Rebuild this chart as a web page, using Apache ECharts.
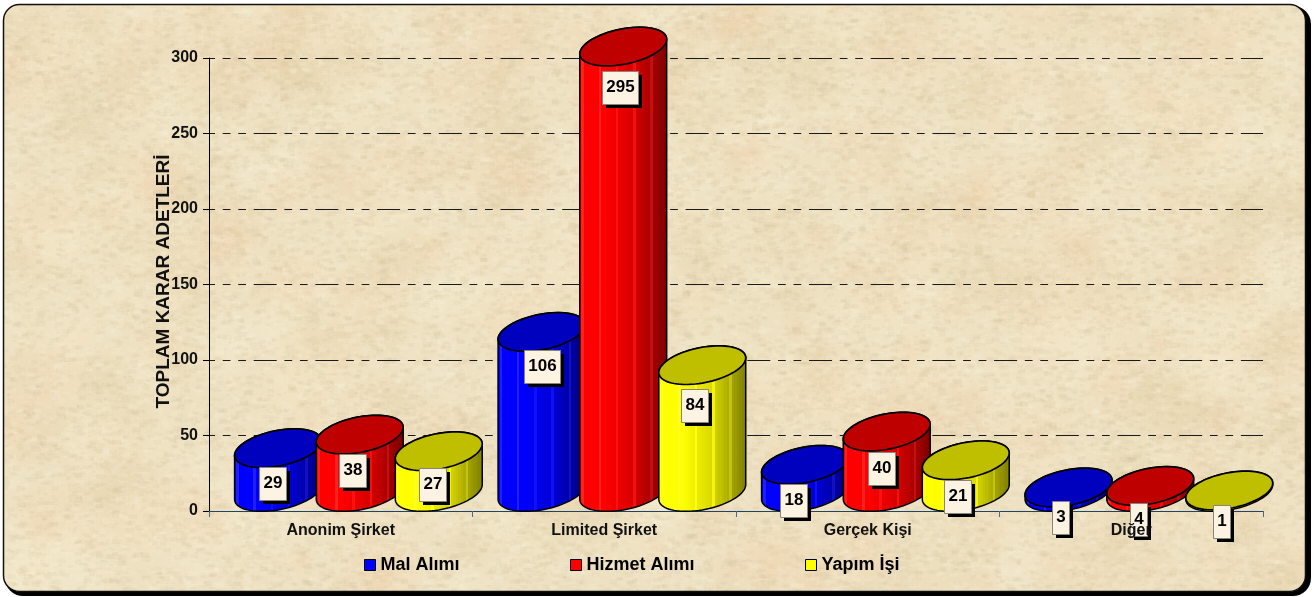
<!DOCTYPE html>
<html>
<head>
<meta charset="utf-8">
<style>html,body{margin:0;padding:0;background:#fff}#c{width:1314px;height:597px}</style>
<script src="https://cdn.jsdelivr.net/npm/echarts@6/dist/echarts.min.js"></script>
</head>
<body>
<div id="c"></div>
<script>
// ---- data ----
const categories = ['Anonim Şirket', 'Limited Şirket', 'Gerçek Kişi', 'Diğer'];
const malAlimi = [29, 106, 18, 3];
const hizmetAlimi = [38, 295, 40, 4];
const yapimIsi = [27, 84, 21, 1];
const seriesNames = ['Mal Alımı', 'Hizmet Alımı', 'Yapım İşi'];

// ---- styling ----
const FONT = '"Liberation Sans", Arial, sans-serif';
const palette = [
  {legend: '#0000ff', top: '#0000bf', rgb: [0, 0, 255]},
  {legend: '#ff0000', top: '#bf0000', rgb: [255, 0, 0]},
  {legend: '#ffff00', top: '#bfbf00', rgb: [255, 255, 0]}
];
const bandShift = [-0.238, 0.072, 0.372];     // cylinder centre, in fractions of a category band
const A = 44.2, B = 17.6, TILT = 11.4 * Math.PI / 180, DEPTH = 19;
// data-label offsets from the cylinder centre / value level
const labelDx = [[-5.3, 0.2, -11.8, -7.8], [-7, -3.5, -5, -11.5], [-6, -8, -8, -7.5]];
const labelDy = [[16, 16, 16.5, 11.5], [17, 21.5, 17.5, 15], [14, 21, 17, 12.5]];

function stripes(rgb) {
  const n = 36, stops = [];
  for (let i = 0; i < n; i++) {
    const t = (i + 0.5) / n;
    let f = t < 0.28 ? 1 : t < 0.62 ? 1 - (t - 0.28) * 0.45 : 0.847 - (t - 0.62) * 0.95;
    const accent = i % 7 === 1;
    if (accent) f = Math.min(1.0, f + 0.05);
    const lift = accent ? (t < 0.3 ? 32 : 16) : 0;
    const c = rgb.map(v => Math.min(255, Math.round(v * f) + lift));
    const col = 'rgb(' + c.join(',') + ')';
    stops.push({offset: i / n, color: col}, {offset: (i + 1) / n, color: col});
  }
  return {type: 'linear', x: 0, y: 0, x2: 1, y2: 0, colorStops: stops};
}
const gradients = palette.map(p => stripes(p.rgb));

function ellipsePoint(cx, cy, t) {
  const c = Math.cos(TILT), s = Math.sin(TILT);
  return [cx + A * Math.cos(t) * c + B * Math.sin(t) * s,
          cy - A * Math.cos(t) * s + B * Math.sin(t) * c];
}
function arc(cx, cy, from, to, n) {
  const pts = [];
  for (let i = 0; i <= n; i++) pts.push(ellipsePoint(cx, cy, from + (to - from) * i / n));
  return pts;
}
function cylinder(si) {
  return function (params, api) {
    const p = api.coord([api.value(0), api.value(1)]);
    const base = api.coord([api.value(0), 0]);
    const band = api.size([1, 0])[0];
    const cx = p[0] + band * bandShift[si];
    const topY = p[1] - DEPTH, baseY = base[1] - DEPTH;
    const t0 = Math.atan2(B * Math.sin(TILT), A * Math.cos(TILT));
    const body = arc(cx, baseY, t0, t0 + Math.PI, 40).concat(arc(cx, topY, t0 + Math.PI, t0 + 2 * Math.PI, 40));
    const lid = arc(cx, topY, 0, 2 * Math.PI, 80);
    return {type: 'group', children: [
      {type: 'polygon', shape: {points: body}, style: {fill: gradients[si], stroke: '#000', lineWidth: 1.5}},
      {type: 'polygon', shape: {points: lid}, style: {fill: palette[si].top, stroke: '#000', lineWidth: 1.7}}
    ]};
  };
}
function labelBox(si) {
  return function (params, api) {
    const p = api.coord([api.value(0), api.value(1)]);
    const band = api.size([1, 0])[0];
    const i = params.dataIndex;
    const cx = p[0] + band * bandShift[si] + labelDx[si][i];
    const cy = p[1] + labelDy[si][i];
    const txt = String(api.value(1));
    const w = txt.length === 1 ? 17 : txt.length === 2 ? 27 : 36, h = 33;
    const x = Math.round(cx - w / 2), y = Math.round(cy - h / 2);
    return {type: 'group', children: [
      {type: 'rect', shape: {x: x + 4, y: y + 4, width: w, height: h}, style: {fill: '#000'}},
      {type: 'rect', shape: {x: x + 0.5, y: y + 0.5, width: w, height: h}, style: {fill: '#fdf3e3', stroke: '#8a8578', lineWidth: 1}},
      {type: 'text', style: {x: x + w / 2 + 0.5, y: y + h / 2, text: txt, fill: '#000', font: 'bold 17px ' + FONT, align: 'center', verticalAlign: 'middle'}}
    ]};
  };
}

// procedural parchment texture (decoration only)
function parchment() {
  const cv = document.createElement('canvas');
  cv.width = 1314; cv.height = 597;
  const g = cv.getContext('2d');
  let seed = 12345;
  const rnd = () => (seed = (seed * 16807) % 2147483647) / 2147483647;
  g.fillStyle = '#eee1c2';
  g.fillRect(0, 0, cv.width, cv.height);
  const tints = ['236,208,170', '244,233,205', '228,212,172', '240,216,180', '243,232,202'];
  for (let i = 0; i < 620; i++) {
    const x = rnd() * cv.width, y = rnd() * cv.height, r = 12 + rnd() * 42;
    const t = tints[Math.floor(rnd() * tints.length)];
    const gr = g.createRadialGradient(x, y, 0, x, y, r);
    gr.addColorStop(0, 'rgba(' + t + ',0.45)');
    gr.addColorStop(1, 'rgba(' + t + ',0)');
    g.fillStyle = gr;
    g.fillRect(x - r, y - r, 2 * r, 2 * r);
  }
  for (let i = 0; i < 40000; i++) {
    const x = rnd() * cv.width, y = rnd() * cv.height, s = 1 + rnd() * 4;
    g.fillStyle = rnd() < 0.5 ? 'rgba(250,243,220,0.16)' : 'rgba(208,188,145,0.12)';
    g.fillRect(x, y, s * 1.8, s);
  }
  return cv;
}

const seriesValues = [malAlimi, hizmetAlimi, yapimIsi];
const series = [];
seriesValues.forEach((vals, si) => {
  series.push({
    type: 'custom', name: seriesNames[si], z: 3 + si, silent: true,
    itemStyle: {color: palette[si].legend},
    renderItem: cylinder(si),
    encode: {x: 0, y: 1},
    data: vals.map((v, i) => [i, v])
  });
});
seriesValues.forEach((vals, si) => {
  series.push({
    type: 'custom', name: 'etiket' + si, z: 10, silent: true,
    renderItem: labelBox(si),
    encode: {x: 0, y: 1},
    data: vals.map((v, i) => [i, v])
  });
});

const legendLefts = [364, 570, 805];
const chart = echarts.init(document.getElementById('c'), null, {renderer: 'canvas', width: 1314, height: 597});
chart.setOption({
  animation: false,
  backgroundColor: '#fff',
  tooltip: {show: false},
  graphic: [
    {type: 'rect', silent: true, z: -3, shape: {x: 5, y: 6, width: 1306, height: 590, r: 18}, style: {fill: '#000'}},
    {type: 'rect', silent: true, z: -2, shape: {x: 3.5, y: 4.5, width: 1302, height: 587, r: 16},
     style: {fill: {image: parchment(), repeat: 'no-repeat'}, stroke: '#111', lineWidth: 1.5}}
  ],
  grid: {left: 209, right: 51, top: 58, bottom: 86},
  legend: seriesNames.map((n, i) => ({
    data: [n], left: legendLefts[i], top: 556, padding: 0, itemGap: 0,
    itemWidth: 11, itemHeight: 11, icon: 'rect', selectedMode: false,
    itemStyle: {borderColor: '#000', borderWidth: 1},
    textStyle: {fontFamily: FONT, fontWeight: 'bold', fontSize: 18, color: '#000'}
  })),
  xAxis: [{
    type: 'category', data: categories,
    axisLine: {lineStyle: {color: '#1f4468', width: 1}},
    axisTick: {show: true, alignWithLabel: false, length: 6, lineStyle: {color: '#4a6a88', width: 1}},
    axisLabel: {show: false},
    splitLine: {show: false}
  }, {
    // the category names sit above the data-label boxes ("Diğer" runs over the "4" box)
    type: 'category', data: categories, position: 'bottom', z: 11, offset: 0,
    axisLine: {show: false}, axisTick: {show: false},
    axisLabel: {fontFamily: FONT, fontWeight: 'bold', fontSize: 16, color: '#111', margin: 12, interval: 0},
    splitLine: {show: false}
  }],
  yAxis: {
    type: 'value', min: 0, max: 300, interval: 50,
    name: 'TOPLAM KARAR ADETLERİ', nameLocation: 'middle', nameGap: 36, nameMoveOverlap: false,
    nameTextStyle: {fontFamily: FONT, fontWeight: 'bold', fontSize: 19, color: '#111', padding: [0, 0, 0, 6]},
    axisLine: {show: true, onZero: false, lineStyle: {color: '#000', width: 1}},
    axisTick: {show: true, length: 6, lineStyle: {color: '#000', width: 1}},
    axisLabel: {fontFamily: FONT, fontWeight: 'bold', fontSize: 16, color: '#111', margin: 11},
    splitLine: {show: true, showMinLine: false, lineStyle: {color: '#1a1a1a', width: 1, type: [23, 7.74, 7.74, 7.74, 7.74, 7.74], dashOffset: 17}}
  },
  series: series
});
</script>
</body>
</html>
